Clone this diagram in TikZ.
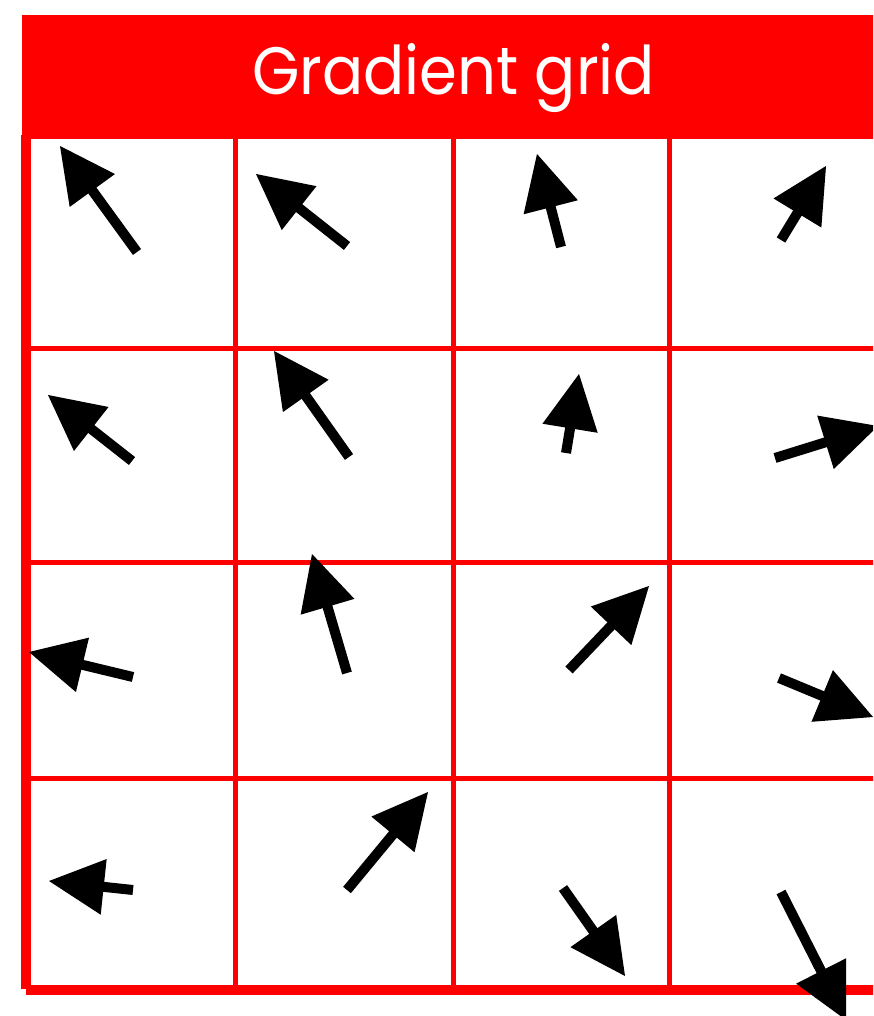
\documentclass[tikz,border=0pt]{standalone}
\usepackage{fontspec}
\setmainfont{Poppins}
\usetikzlibrary{calc}
\definecolor{gridred}{RGB}{255,0,0}
\tikzset{
  thinline/.style={draw=gridred, line width=5pt},
  thickline/.style={draw=gridred, line width=10pt},
  shaft/.style={draw=black, line width=10pt},
  head/.style={fill=black},
  titletext/.style={text=white, anchor=base, inner sep=0pt}
}
\newcommand{\gvec}[3]{%
  \coordinate (#1t) at #2;
  \coordinate (#1h) at #3;
  \coordinate (#1b) at ($(#1h)!55pt!(#1t)$);
  \coordinate (#1s) at ($(#1h)!50pt!(#1t)$);
  \draw[shaft] (#1t) -- (#1s);
  \fill[head] (#1h) -- ($(#1b)!28pt!90:(#1h)$) -- ($(#1b)!28pt!-90:(#1h)$) -- cycle;
}
\begin{document}
\begin{tikzpicture}[x=1pt,y=-1pt]
\useasboundingbox (0,0) rectangle (873,1016);
\clip (0,0) rectangle (873,1016);
\fill[white] (0,0) rectangle (873,1016);
% grid
\foreach \x in {235.5,453,669} \draw[thinline] (\x,139) -- (\x,990);
\foreach \y in {348,562,778} \draw[thinline] (26,\y) -- (880,\y);
\draw[thickline] (26,135) -- (26,989);
\draw[thickline] (26,990) -- (880,990);
% header
\fill[gridred] (21.5,15) rectangle (880,139);
\node[titletext] (title) at (453.5,95) {\scalebox{1}[1.1]{\resizebox{403pt}{!}{\fontsize{60pt}{60pt}\selectfont Gradient grid}}};
% arrows
\gvec{a11}{(137,252)}{(60,146)}
\gvec{a12}{(347,246)}{(256,174)}
\gvec{a13}{(561,247)}{(537,154)}
\gvec{a14}{(781,240)}{(826,166)}
\gvec{a21}{(132,461)}{(48,395)}
\gvec{a22}{(349,457)}{(274,351)}
\gvec{a23}{(566,453)}{(579,374)}
\gvec{a24}{(775,458)}{(878,426)}
\gvec{a31}{(133,677)}{(29,652)}
\gvec{a32}{(347,673)}{(312,554)}
\gvec{a33}{(569,670)}{(649,586)}
\gvec{a34}{(779,678)}{(873,717)}
\gvec{a41}{(133,890)}{(49,881)}
\gvec{a42}{(347,890)}{(428,792)}
\gvec{a43}{(563,888)}{(625,976)}
\gvec{a44}{(781,892)}{(846,1020)}
\end{tikzpicture}
\end{document}
